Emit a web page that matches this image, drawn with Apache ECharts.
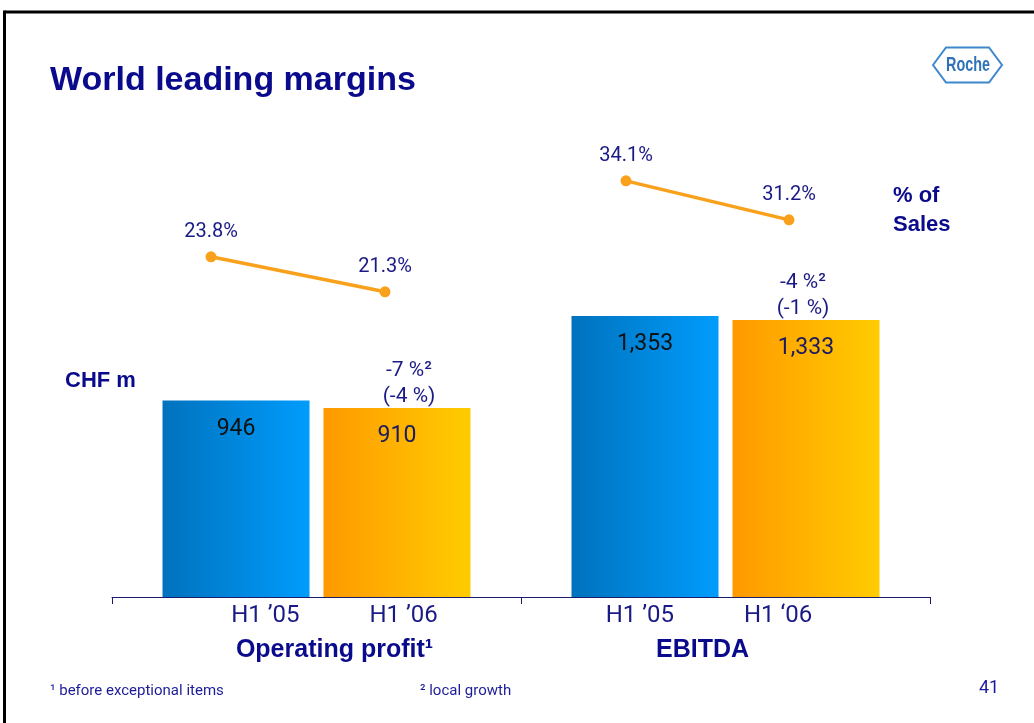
<!DOCTYPE html>
<html>
<head>
<meta charset="utf-8">
<script src="https://cdn.jsdelivr.net/npm/echarts@6/dist/echarts.min.js"></script>
<style>
html,body{margin:0;padding:0;background:#fff;}
#chart{width:1034px;height:723px;}
</style>
</head>
<body>
<div id="chart"></div>
<script>
// ---- data ----
const categories = ['Operating profit¹', 'EBITDA'];
const periods = [['H1 ’05', 'H1 ’06'], ['H1 ’05', 'H1 ‘06']];
const valuesH105 = [946, 1353];
const valuesH106 = [910, 1333];
const marginH105 = [23.8, 34.1];
const marginH106 = [21.3, 31.2];
const growthLocal = ['-7 %²', '-4 %²'];
const growthCHF = ['(-4 %)', '(-1 %)'];

// ---- styles ----
const navy = '#1a1a86';
const navyBold = '#0a0a8c';
const orangeLine = '#F9A11B';
const titleFont = '"Liberation Sans", Arial, sans-serif';
const numFont = 'Roboto, "Liberation Sans", sans-serif';

const blueGrad = {type:'linear', x:0, y:0, x2:1, y2:0, colorStops:[{offset:0, color:'#0072bd'},{offset:1, color:'#009cfc'}]};
const orangeGrad = {type:'linear', x:0, y:0, x2:1, y2:0, colorStops:[{offset:0, color:'#ff9900'},{offset:1, color:'#ffcc00'}]};

const fmtNum = v => Number(v).toLocaleString('en-US');

const chart = echarts.init(document.getElementById('chart'), null, {renderer:'canvas'});

function lineSeries(idx) {
  return {
    type:'line', xAxisIndex:idx + 1, yAxisIndex:idx + 1,
    data:[marginH105[idx], marginH106[idx]],
    symbol:'circle', symbolSize:11,
    lineStyle:{color:orangeLine, width:3.5},
    itemStyle:{color:orangeLine},
    label:{show:true, position:'top', distance:9, fontFamily:numFont, fontSize:20, color:navy,
      formatter:p => p.value.toFixed(1) + '%'},
    silent:true, z:5
  };
}

const option = {
  animation:false,
  textStyle:{fontFamily:numFont},
  grid:[
    {left:112, right:104, top:129.5, bottom:126, containLabel:false, outerBoundsMode:'none'},
    {left:211, right:649, top:170, bottom:133, containLabel:false, outerBoundsMode:'none'},
    {left:626, right:245, top:101.5, bottom:218, containLabel:false, outerBoundsMode:'none'}
  ],
  xAxis:[
    {type:'category', gridIndex:0, data:categories,
      axisLine:{show:true, lineStyle:{color:'#1b1b6e', width:1}},
      axisTick:{show:true, length:7, alignWithLabel:false, lineStyle:{color:'#1b1b6e', width:1}},
      splitLine:{show:false},
      axisLabel:{interval:0, margin:2,
        formatter:function(value, index){
          const p = periods[index];
          if (index === 0) {
            return '{pl1| }{h|' + p[0] + '}{gap| }{h|' + p[1] + '}\n{pl2| }{t|' + value + '}';
          }
          return '{h|' + p[0] + '}{gap| }{h|' + p[1] + '}{pr1| }\n{t|' + value + '}{pr2| }';
        },
        rich:{
          h:{fontFamily:numFont, fontSize:24, color:navy, lineHeight:34},
          t:{fontFamily:titleFont, fontWeight:'bold', fontSize:25, color:navyBold, lineHeight:34},
          gap:{width:70, lineHeight:34},
          pl1:{width:36, lineHeight:34},
          pl2:{width:36, lineHeight:34},
          pr1:{width:33, lineHeight:34},
          pr2:{width:46, lineHeight:34}
        }
      }
    },
    {type:'category', gridIndex:1, data:periods[0], boundaryGap:false, show:false},
    {type:'category', gridIndex:2, data:periods[1], boundaryGap:false, show:false}
  ],
  yAxis:[
    {type:'value', gridIndex:0, min:0, max:2250, show:false, splitLine:{show:false}},
    {type:'value', gridIndex:1, min:0, max:30, show:false, splitLine:{show:false}},
    {type:'value', gridIndex:2, min:10, max:40, show:false, splitLine:{show:false}}
  ],
  series:[
    {type:'bar', name:'H1 2005', xAxisIndex:0, yAxisIndex:0, data:valuesH105,
      barWidth:147, barGap:'9.5%',
      itemStyle:{color:blueGrad},
      label:{show:true, position:'insideTop', distance:17, fontFamily:numFont, fontSize:23, color:'#111111',
        formatter:p => fmtNum(p.value)},
      silent:true
    },
    {type:'bar', name:'H1 2006', xAxisIndex:0, yAxisIndex:0, data:valuesH106,
      barWidth:147, barGap:'9.5%',
      itemStyle:{color:orangeGrad},
      label:{show:true, position:'insideTop', distance:17, fontFamily:numFont, fontSize:23, color:'#1b1b5e',
        formatter:p => fmtNum(p.value)},
      markPoint:{
        symbol:'circle', symbolSize:1, silent:true,
        itemStyle:{color:'transparent'},
        label:{show:true, position:'top', distance:-2, fontFamily:numFont, fontSize:21, color:navy, lineHeight:26,
          formatter:p => growthLocal[p.dataIndex] + '\n' + growthCHF[p.dataIndex]},
        data:[
          {coord:[categories[0], valuesH106[0]], label:{offset:[12, 0]}},
          {coord:[categories[1], valuesH106[1]], label:{offset:[-3, 0]}}
        ]
      },
      silent:true
    },
    lineSeries(0),
    lineSeries(1)
  ],
  graphic:[
    {type:'line', z:100, shape:{x1:4.5, y1:12, x2:1034, y2:12}, style:{stroke:'#000', lineWidth:3}},
    {type:'line', z:100, shape:{x1:4.5, y1:10.5, x2:4.5, y2:723}, style:{stroke:'#000', lineWidth:3}},
    {type:'text', z:100, x:50, y:81, style:{text:'World leading margins', fontFamily:titleFont, fontWeight:'bold', fontSize:34, fill:navyBold, align:'left', verticalAlign:'middle'}},
    {type:'polygon', z:100, shape:{points:[[933,65],[946,47.5],[989,47.5],[1002,65],[989,82.5],[946,82.5]]}, style:{fill:'#fff', stroke:'#3d88cc', lineWidth:2}},
    {type:'text', z:101, x:968, y:65, scaleX:0.72, style:{text:'Roche', fontFamily:titleFont, fontWeight:'bold', fontSize:20, fill:'#2f72b8', align:'center', verticalAlign:'middle'}},
    {type:'text', z:100, x:65, y:381, style:{text:'CHF m', fontFamily:titleFont, fontWeight:'bold', fontSize:22, fill:navyBold, align:'left', verticalAlign:'middle'}},
    {type:'text', z:100, x:893, y:196, style:{text:'% of', fontFamily:titleFont, fontWeight:'bold', fontSize:22, fill:navyBold, align:'left', verticalAlign:'middle'}},
    {type:'text', z:100, x:893, y:225, style:{text:'Sales', fontFamily:titleFont, fontWeight:'bold', fontSize:22, fill:navyBold, align:'left', verticalAlign:'middle'}},
    {type:'text', z:100, x:50, y:691, style:{text:'¹ before exceptional items', fontFamily:numFont, fontSize:15, fill:'#1c1c9a', align:'left', verticalAlign:'middle'}},
    {type:'text', z:100, x:420, y:691, style:{text:'² local growth', fontFamily:numFont, fontSize:15, fill:'#1c1c9a', align:'left', verticalAlign:'middle'}},
    {type:'text', z:100, x:989, y:688, style:{text:'41', fontFamily:numFont, fontSize:18, fill:'#1c1c9a', align:'center', verticalAlign:'middle'}}
  ]
};
chart.setOption(option);
</script>
</body>
</html>
